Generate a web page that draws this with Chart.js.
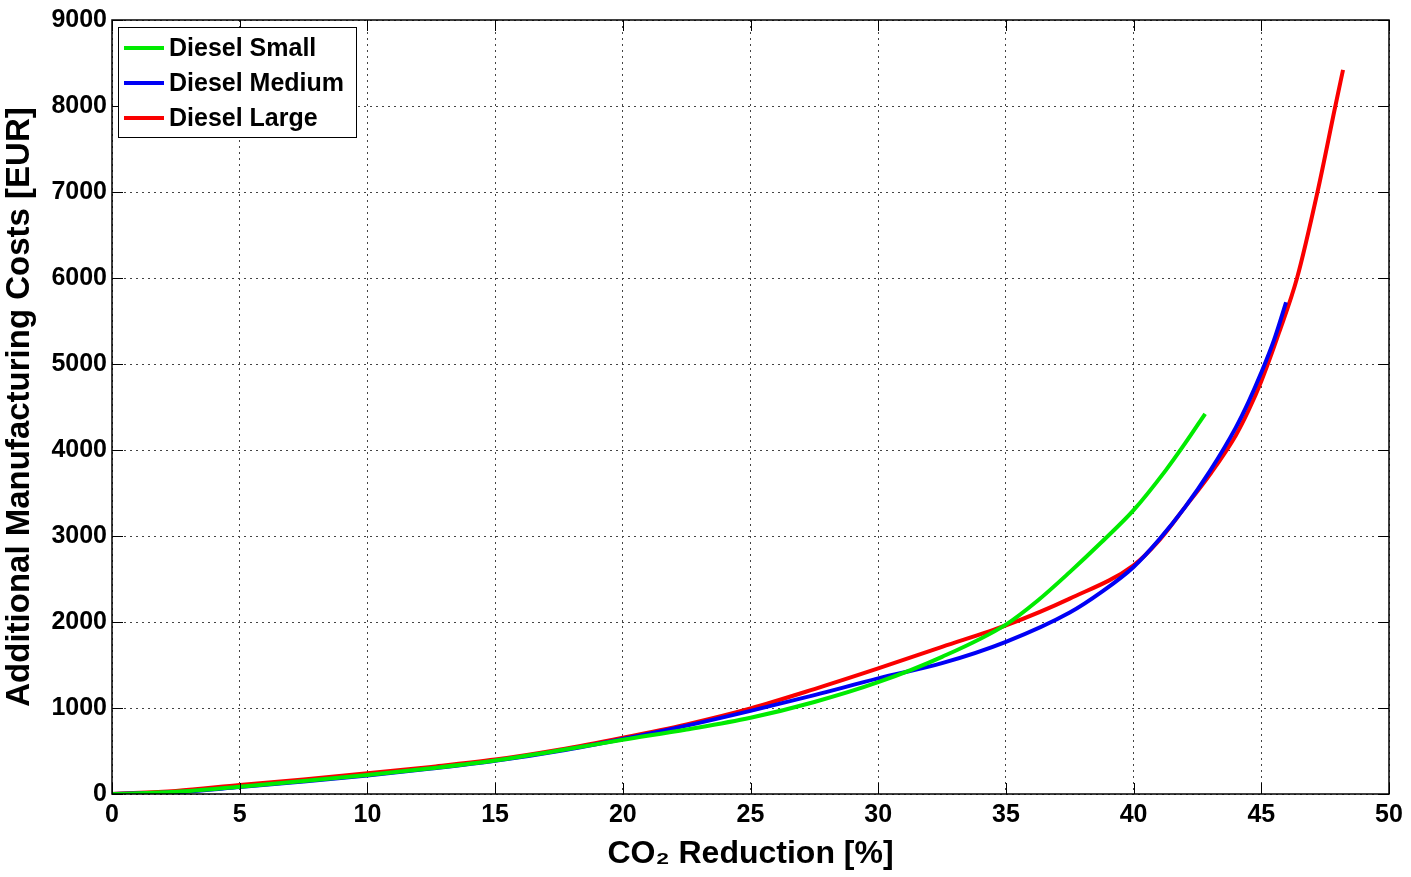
<!DOCTYPE html>
<html>
<head>
    <title>CO2 Reduction Costs</title>
    <script src="https://cdn.jsdelivr.net/npm/chart.js"></script>
    <style>
        html, body { margin: 0; padding: 0; background: #fff; }
        #wrap { width: 1411px; height: 877px; }
    </style>
</head>
<body>
    <div id="wrap">
        <canvas id="cost-chart"></canvas>
    </div>

    <script>
        'use strict';

        // values
        const smallX  = [0, 2.5, 5, 7.5, 10, 12.5, 15, 17.5, 20, 22.5, 25, 27.5, 30, 32.5, 35, 36.25, 37.5, 38.75, 40, 41.25, 42, 42.8];
        const smallY  = [0, 25, 85, 150, 220, 300, 390, 505, 630, 750, 886, 1070, 1300, 1595, 1970, 2250, 2580, 2930, 3300, 3760, 4070, 4421];

        const mediumX = [0, 2.5, 5, 7.5, 10, 12.5, 15, 17.5, 20, 22.5, 25, 27.5, 30, 32.5, 35, 37.5, 38.75, 40, 41, 42, 43, 44, 44.5, 45, 45.5, 45.97];
        const mediumY = [0, 20, 80, 145, 215, 295, 385, 500, 640, 795, 967, 1150, 1344, 1521, 1769, 2110, 2350, 2640, 2960, 3330, 3760, 4260, 4560, 4900, 5280, 5718];

        const largeX  = [0, 2.5, 5, 7.5, 10, 12.5, 15, 17.5, 20, 22.5, 25, 27.5, 30, 32.5, 35, 37.5, 40, 41, 42, 43, 44, 44.5, 45, 45.7, 46.4, 47.2, 47.9, 48.2];
        const largeY  = [0, 35, 105, 170, 240, 315, 400, 515, 655, 810, 995, 1220, 1460, 1711, 1960, 2272, 2660, 2950, 3330, 3720, 4170, 4460, 4800, 5370, 6000, 7000, 8000, 8420];

        const seriesNames = ['Diesel Small', 'Diesel Medium', 'Diesel Large'];
        const xTitle = 'CO\u2082 Reduction [%]';
        const yTitle = 'Additional Manufacturing Costs [EUR]';

        function toPoints(xs, ys) {
            return xs.map(function (x, i) { return { x: x, y: ys[i] }; });
        }

        const lineOptions = {
            showLine: true,
            borderWidth: 4,
            pointRadius: 0,
            cubicInterpolationMode: 'monotone',
            fill: false
        };

        const sans = "'Liberation Sans', Arial, sans-serif";

        // matlab style frame, inner tick marks and boxed legend
        const matlabFrame = {
            id: 'matlabFrame',
            afterDatasetsDraw(chart) {
                const c = chart.ctx;
                const a = chart.chartArea;
                const xs = chart.scales.x, ys = chart.scales.y;
                c.save();
                c.strokeStyle = '#000';
                c.lineWidth = 1.5;
                c.strokeRect(a.left, a.top, a.right - a.left, a.bottom - a.top);
                c.beginPath();
                xs.ticks.forEach(function (t) {
                    const px = Math.round(xs.getPixelForValue(t.value)) + 0.5;
                    c.moveTo(px, a.bottom); c.lineTo(px, a.bottom - 11);
                    c.moveTo(px, a.top); c.lineTo(px, a.top + 11);
                });
                ys.ticks.forEach(function (t) {
                    const py = Math.round(ys.getPixelForValue(t.value)) + 0.5;
                    c.moveTo(a.left, py); c.lineTo(a.left + 11, py);
                    c.moveTo(a.right, py); c.lineTo(a.right - 11, py);
                });
                c.lineWidth = 1;
                c.stroke();

                // legend box
                const bx = a.left + 6, by = a.top + 7, bw = 238, bh = 110;
                c.fillStyle = '#fff';
                c.fillRect(bx, by, bw, bh);
                c.strokeStyle = '#000';
                c.lineWidth = 1;
                c.strokeRect(bx + 0.5, by + 0.5, bw, bh);
                c.font = 'bold 25px ' + sans;
                c.textBaseline = 'middle';
                chart.data.datasets.forEach(function (ds, i) {
                    const yy = by + 21 + i * 35;
                    c.strokeStyle = ds.borderColor;
                    c.lineWidth = 4;
                    c.beginPath();
                    c.moveTo(bx + 6, yy); c.lineTo(bx + 46, yy);
                    c.stroke();
                    c.fillStyle = '#000';
                    c.fillText(ds.label, bx + 51, yy + 1);
                });
                c.restore();
            }
        };

        const ctx = document.getElementById('cost-chart').getContext('2d');

        new Chart(ctx, {
            type: 'scatter',
            data: {
                datasets: [{
                    label: seriesNames[0],
                    data: toPoints(smallX, smallY),
                    borderColor: 'rgb(0, 235, 0)',
                    ...lineOptions
                }, {
                    label: seriesNames[1],
                    data: toPoints(mediumX, mediumY),
                    borderColor: 'rgb(0, 0, 245)',
                    ...lineOptions
                }, {
                    label: seriesNames[2],
                    data: toPoints(largeX, largeY),
                    borderColor: 'rgb(250, 0, 0)',
                    ...lineOptions
                }]
            },
            options: {
                responsive: true,
                maintainAspectRatio: false,
                animation: false,
                layout: {
                    padding: { top: 19, right: 22, left: 0, bottom: 0 }
                },
                scales: {
                    x: {
                        type: 'linear',
                        min: 0,
                        max: 50,
                        afterFit: function (scale) { scale.height = 83; },
                        grid: {
                            color: '#444',
                            lineWidth: 1,
                            tickLength: 0,
                            drawTicks: false
                        },
                        border: { display: false, dash: [2, 4] },
                        ticks: {
                            stepSize: 5,
                            padding: 6,
                            color: '#000',
                            maxRotation: 0,
                            font: { family: sans, size: 25, weight: 'bold' }
                        },
                        title: {
                            display: true,
                            text: xTitle,
                            color: '#000',
                            padding: { top: 0, bottom: 4 },
                            font: { family: sans, size: 32, weight: 'bold' }
                        }
                    },
                    y: {
                        min: 0,
                        max: 9000,
                        afterFit: function (scale) { scale.width = 112; },
                        grid: {
                            color: '#444',
                            lineWidth: 1,
                            tickLength: 0,
                            drawTicks: false
                        },
                        border: { display: false, dash: [2, 4] },
                        ticks: {
                            stepSize: 1000,
                            padding: 5,
                            color: '#000',
                            font: { family: sans, size: 25, weight: 'bold' },
                            callback: function (value) { return String(value); }
                        },
                        title: {
                            display: true,
                            text: yTitle,
                            color: '#000',
                            padding: { top: 0, bottom: 8 },
                            font: { family: sans, size: 33, weight: 'bold' }
                        }
                    }
                },
                plugins: {
                    legend: { display: false },
                    tooltip: { enabled: false }
                }
            },
            plugins: [matlabFrame]
        });
    </script>
</body>
</html>
